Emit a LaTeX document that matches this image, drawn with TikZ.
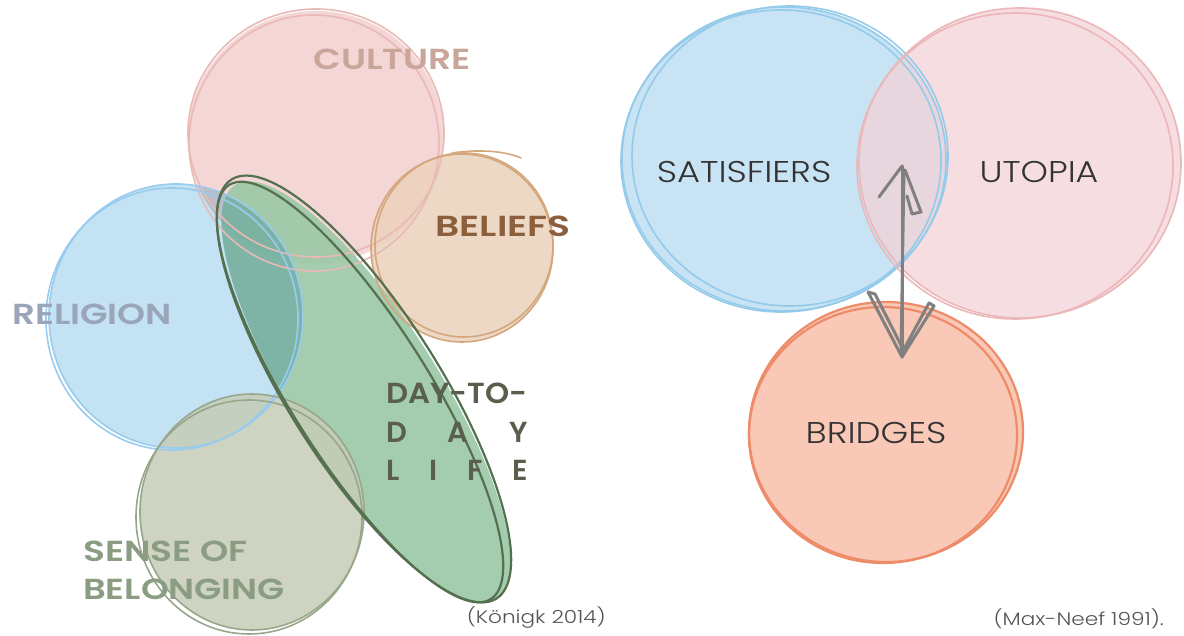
\documentclass[tikz,border=0pt]{standalone}
\usepackage{fontspec}
\usepackage{graphicx}
\setmainfont{Poppins}
\newfontfamily\lblfont{Poppins SemiBold}
\newfontfamily\thinfont{Poppins Light}
\usetikzlibrary{calc}
\definecolor{culF}{HTML}{F4D6D6}\definecolor{culD}{HTML}{E9B9B5}
\definecolor{belF}{HTML}{EBD2BC}\definecolor{belD}{HTML}{D4A77C}
\definecolor{relF}{HTML}{C3E2F3}\definecolor{relD}{HTML}{98CCEE}
\definecolor{senF}{HTML}{C6CCB8}\definecolor{senD}{HTML}{98A78C}
\definecolor{dayF}{HTML}{9DC8A8}\definecolor{dayD}{HTML}{55704F}
\definecolor{satF}{HTML}{C8E3F4}\definecolor{satD}{HTML}{94CBEA}
\definecolor{utoF}{HTML}{F3D2D7}\definecolor{utoD}{HTML}{EBB7B9}
\definecolor{briF}{HTML}{F9C8B7}\definecolor{briD}{HTML}{EE8C69}
\definecolor{tCul}{HTML}{C9A59A}\definecolor{tBel}{HTML}{8B5E3C}
\definecolor{tRel}{HTML}{9BA5B9}\definecolor{tDay}{HTML}{5A5F4B}
\definecolor{tSen}{HTML}{8A9C82}\definecolor{tDark}{HTML}{333333}
\definecolor{tCite}{HTML}{555555}\definecolor{arrowG}{HTML}{808080}
\newcommand{\wide}[2]{\scalebox{#1}[1]{#2}}
\tikzset{
  sketch/.style={line width=1.6pt},
  boldlabel/.style={font=\lblfont\fontsize{29}{32}\selectfont, inner sep=0pt},
  thinlabel/.style={font=\thinfont\fontsize{30}{33}\selectfont, text=tDark, inner sep=0pt},
  citelabel/.style={font=\thinfont\fontsize{18}{20}\selectfont, text=tCite, inner sep=0pt},
  arrowline/.style={draw=arrowG, line width=3pt, line join=round, line cap=round}
}
% rotated ellipse: centre x, centre y, semi-major, semi-minor (long axis direction (0.534,0.845) in y-down coordinates)
\newcommand{\longoval}[4]{plot[variable=\t,domain=0:360,samples=140]
  ({#1 + #3*cos(\t)*0.534 + #4*sin(\t)*0.845},{#2 + #3*cos(\t)*0.845 - #4*sin(\t)*0.534}) -- cycle}
\begin{document}
\begin{tikzpicture}[x=1pt,y=-1pt]
\useasboundingbox (0,0) rectangle (1184,636);
\fill[white] (0,0) rectangle (1184,636);
% ---------------- left diagram ----------------
\coordinate (cul) at (316,137);
\coordinate (bel) at (462,248);
\coordinate (rel) at (176,316);
\coordinate (sen) at (252,512);
\fill[culF] (cul) ellipse[x radius=128,y radius=126];
\fill[belF,fill opacity=0.85] (bel) ellipse[x radius=91,y radius=94];
\fill[dayF,fill opacity=0.92] \longoval{366}{392}{245}{73};
\fill[relF,blend mode=multiply] (rel) ellipse[x radius=127,y radius=132];
\fill[senF,fill opacity=0.85] (sen) ellipse[x radius=112,y radius=118];
% outlines
\draw[culD,sketch] (316,133) ellipse[x radius=128,y radius=124];
\draw[culD,sketch] (314,143) ellipse[x radius=125,y radius=128];
\draw[belD,sketch] (bel) ellipse[x radius=91,y radius=94];
\draw[belD,sketch] ($(bel)+(2,-3)$) ellipse[x radius=89,y radius=92];
\draw[belD,sketch,line cap=round] (452,153) .. controls (480,149) and (505,151) .. (521,158);
\draw[relD,sketch] (rel) ellipse[x radius=127,y radius=132];
\draw[relD,sketch] ($(rel)+(-4,3)$) ellipse[x radius=126,y radius=131];
\draw[senD,sketch] (sen) ellipse[x radius=112,y radius=118];
\draw[senD,sketch] ($(sen)+(-3,5)$) ellipse[x radius=113,y radius=117];
\draw[dayD,line width=2.2pt] \longoval{364}{389}{248}{76};
\draw[dayD,line width=2.2pt] \longoval{360}{392}{245}{69};
% labels
\node[boldlabel,text=tCul] (lcul) at (392,59) {\wide{1.24}{CULTURE}};
\node[boldlabel,text=tBel] (lbel) at (503,226) {\wide{1.3}{BELIEFS}};
\node[boldlabel,text=tRel] (lrel) at (92,314) {\wide{1.23}{RELIGION}};
\node[boldlabel,text=tDay,anchor=west] (lday1) at (386,393) {\wide{1.06}{DAY-TO-}};
\node[boldlabel,text=tDay,anchor=west] (lday2) at (386,432) {\makebox[142pt][s]{D\hfill A\hfill Y}};
\node[boldlabel,text=tDay,anchor=west] (lday3) at (386,470) {\makebox[142pt][s]{L\hfill I\hfill F\hfill E}};
\node[boldlabel,text=tSen,anchor=west] (lsen1) at (83,551) {\wide{1.24}{SENSE OF}};
\node[boldlabel,text=tSen,anchor=west] (lsen2) at (83,589) {\wide{1.22}{BELONGING}};
\node[citelabel,anchor=east] (cite1) at (606,618) {\wide{1.2}{(Königk 2014)}};
% ---------------- right diagram ----------------
\coordinate (sat) at (784,159);
\coordinate (uto) at (1020,163);
\coordinate (bri) at (886,432);
\fill[satF] (sat) ellipse[x radius=162,y radius=152];
\fill[utoF,fill opacity=0.75] (uto) ellipse[x radius=161,y radius=155];
\fill[briF] (bri) ellipse[x radius=137,y radius=130];
\draw[satD,sketch] (sat) ellipse[x radius=162,y radius=152];
\draw[satD,sketch] ($(sat)+(6,-3)$) ellipse[x radius=158,y radius=150];
\draw[satD,sketch] ($(sat)+(-3,2)$) ellipse[x radius=160,y radius=151];
\draw[utoD,sketch] (uto) ellipse[x radius=161,y radius=155];
\draw[utoD,sketch] ($(uto)+(-5,3)$) ellipse[x radius=158,y radius=153];
\draw[briD,line width=2.2pt] (bri) ellipse[x radius=137,y radius=130];
\draw[briD,line width=2.2pt] ($(bri)+(-3,3)$) ellipse[x radius=134,y radius=128];
\node[thinlabel] (lsat) at (744,172) {\wide{1.18}{SATISFIERS}};
\node[thinlabel] (luto) at (1039,172) {\wide{1.16}{UTOPIA}};
\node[thinlabel] (lbri) at (876,433) {\wide{1.18}{BRIDGES}};
\node[citelabel,anchor=east] (cite2) at (1164,619) {\wide{1.2}{(Max-Neef 1991).}};
% arrow
\coordinate (atop) at (902,166);
\coordinate (abot) at (902,357);
\draw[arrowline] (atop) -- (abot);
\draw[arrowline] ($(atop)+(2,4)$) -- ($(abot)+(-1,-3)$);
\draw[arrowline] (atop) -- (879,197);
\draw[arrowline] ($(atop)+(3,4)$) -- (921,212) -- (912,214) -- (907,196);
\draw[arrowline] (abot) -- (868,292) -- (875,294) -- ($(abot)+(1,-8)$);
\draw[arrowline] (abot) -- (934,306) -- (929,303) -- ($(abot)+(2,-8)$);
\end{tikzpicture}
\end{document}
